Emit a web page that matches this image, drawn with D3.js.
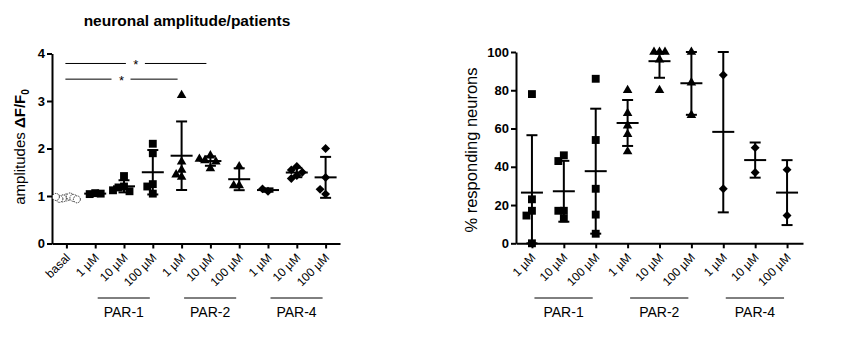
<!DOCTYPE html>
<html>
<head>
<meta charset="utf-8">
<script src="https://cdn.jsdelivr.net/npm/d3@7"></script>
<style>
body { margin: 0; background: #fff; }
svg { font-family: "Liberation Sans", Arial, sans-serif; }
</style>
</head>
<body>
<div class="chart"></div>
<script>
// ---- data: left panel (amplitudes dF/F0)
const ampLabels = ['basal', '1 µM', '10 µM', '100 µM', '1 µM', '10 µM', '100 µM', '1 µM', '10 µM', '100 µM'];
const ampGroups = ['basal', 'PAR-1', 'PAR-1', 'PAR-1', 'PAR-2', 'PAR-2', 'PAR-2', 'PAR-4', 'PAR-4', 'PAR-4'];
const ampValues = [
  [0.97, 0.95, 0.99, 0.94, 0.96, 0.98, 0.93],
  [1.06, 1.04, 1.05],
  [1.42, 1.2, 1.18, 1.1, 1.12],
  [2.1, 1.9, 1.25, 1.2, 1.05],
  [3.12, 1.72, 1.55, 1.45, 1.4],
  [1.85, 1.75, 1.72, 1.58, 1.78],
  [1.62, 1.22, 1.22],
  [1.1, 1.15],
  [1.62, 1.55, 1.5, 1.43, 1.37],
  [2.0, 1.39, 1.04, 1.14]
];
const ampTicks = [0, 1, 2, 3, 4];
// significance bars: [from category, to category, level]
const ampSig = [[0, 5, 3.79], [0, 4, 3.46]];

// ---- data: right panel (% responding neurons)
const respLabels = ['1 µM', '10 µM', '100 µM', '1 µM', '10 µM', '100 µM', '1 µM', '10 µM', '100 µM'];
const respGroups = ['PAR-1', 'PAR-1', 'PAR-1', 'PAR-2', 'PAR-2', 'PAR-2', 'PAR-4', 'PAR-4', 'PAR-4'];
const respValues = [
  [78, 23, 17, 14.5, 0],
  [46, 43, 17, 17, 13],
  [86, 54, 28.5, 15, 5],
  [80, 68, 61.5, 57, 48],
  [100, 100, 100, 96, 80],
  [100, 84, 67],
  [88, 28.5],
  [50, 37],
  [38.5, 14.5]
];
const respTicks = [0, 20, 40, 60, 80, 100];

const W = 844, H = 361;
const svg = d3.select('.chart').append('svg')
  .attr('width', W).attr('height', H);

svg.append('text')
  .attr('x', 187).attr('y', 26)
  .attr('text-anchor', 'middle')
  .attr('font-size', 15.5).attr('font-weight', 'bold')
  .text('neuronal amplitude/patients');

const shapeOf = {
  'basal': null,
  'PAR-1': d3.symbol().type(d3.symbolSquare).size(62),
  'PAR-2': d3.symbol().type(d3.symbolTriangle).size(40),
  'PAR-4': d3.symbol().type(d3.symbolSquare).size(40)
};

// simple swarm: spread points sideways when they overlap
function swarm(ys, step, th) {
  const placed = [];
  const offs = [0, -1, 1, -2, 2, -3, 3];
  ys.forEach(y => {
    let best = 0;
    for (const o of offs) {
      const dx = o * step;
      const hit = placed.some(p => Math.abs(p.dx - dx) < step * 0.9 && Math.abs(p.y - y) < th);
      if (!hit) { best = dx; break; }
    }
    placed.push({ y: y, dx: best });
  });
  return placed.map(p => p.dx);
}

function panel(cfg) {
  const g = svg.append('g');
  const x = d3.scalePoint()
    .domain(d3.range(cfg.labels.length))
    .range(cfg.xr).padding(0.5);
  const y = d3.scaleLinear().domain(cfg.yd).range(cfg.yr);

  // y axis
  const ya = g.append('g')
    .attr('transform', `translate(${cfg.xr[0]},0)`)
    .call(d3.axisLeft(y).tickValues(cfg.ticks).tickFormat(d3.format('d'))
      .tickSize(5).tickSizeOuter(0).tickPadding(2));
  ya.selectAll('path,line').attr('stroke-width', 2);
  ya.selectAll('text').attr('font-size', 13).attr('font-weight', 'bold')
    .attr('font-family', '"Liberation Sans", Arial, sans-serif').attr('fill', '#000');

  // x axis
  const xa = g.append('g')
    .attr('transform', `translate(0,${cfg.yr[0]})`)
    .call(d3.axisBottom(x).tickSize(5).tickSizeOuter(0).tickFormat(i => cfg.labels[i]));
  xa.selectAll('path,line').attr('stroke-width', 2);
  xa.selectAll('text')
    .attr('font-size', 12)
    .attr('font-family', '"Liberation Sans", Arial, sans-serif')
    .attr('fill', '#000')
    .attr('text-anchor', 'end')
    .attr('x', 0).attr('y', 0).attr('dy', 0)
    .attr('transform', 'translate(4,15) rotate(-45)');

  // y label
  const yl = g.append('text')
    .attr('transform', `translate(${cfg.ylx},${cfg.yly}) rotate(-90)`)
    .attr('text-anchor', 'middle')
    .attr('font-size', cfg.ylSize);
  cfg.ylabel(yl);

  const [ymin, ymax] = cfg.yd;
  const clamp = v => Math.max(ymin, Math.min(ymax, v));

  // points
  cfg.values.forEach((vals, i) => {
    const grp = cfg.groups[i];
    const ys = vals.map(v => y(v));
    const dxs = grp === 'basal' ? swarm(ys, 3.5, 3.5) : swarm(ys, 5.5, 7);
    const cx = x(i);
    if (grp === 'basal') {
      const mid = d3.mean(dxs);
      g.selectAll(null).data(vals).enter().append('circle')
        .attr('cx', (d, k) => cx + dxs[k] - mid)
        .attr('cy', d => y(d))
        .attr('r', 3.5)
        .attr('fill', '#fff').attr('stroke', '#000')
        .attr('stroke-width', 0.8).attr('stroke-dasharray', '1.5,1');
    } else {
      g.selectAll(null).data(vals).enter().append('path')
        .attr('d', shapeOf[grp])
        .attr('transform', (d, k) => `translate(${cx + dxs[k]},${y(d)})` + (grp === 'PAR-4' ? ' rotate(45)' : ''))
        .attr('fill', '#000');

      // mean and SD, clipped to the axis range
      const m = d3.mean(vals), s = d3.deviation(vals) || 0;
      const lo = y(clamp(m - s)), hi = y(clamp(m + s));
      const eb = g.append('g').attr('stroke', '#000').attr('stroke-width', 2);
      eb.append('line').attr('x1', cx - 11).attr('x2', cx + 11).attr('y1', y(m)).attr('y2', y(m));
      eb.append('line').attr('x1', cx).attr('x2', cx).attr('y1', lo).attr('y2', hi);
      eb.append('line').attr('x1', cx - 5.5).attr('x2', cx + 5.5).attr('y1', lo).attr('y2', lo);
      eb.append('line').attr('x1', cx - 5.5).attr('x2', cx + 5.5).attr('y1', hi).attr('y2', hi);
    }
  });

  // group lines and labels under the axis
  const names = Array.from(new Set(cfg.groups)).filter(n => n !== 'basal');
  names.forEach(n => {
    const idx = d3.range(cfg.groups.length).filter(i => cfg.groups[i] === n);
    const x0 = x(idx[0]) + 2.5, x1 = x(idx[idx.length - 1]) - 3;
    g.append('line').attr('x1', x0).attr('x2', x1).attr('y1', 298).attr('y2', 298)
      .attr('stroke', '#000').attr('stroke-width', 1);
    g.append('text').attr('x', (x0 + x1) / 2).attr('y', 317)
      .attr('text-anchor', 'middle').attr('font-size', 14).text(n);
  });

  // significance bars
  (cfg.sig || []).forEach(([a, b, lv]) => {
    const x0 = x(a) - 1, x1 = x(b) - 4, yy = y(lv), mid = (x0 + x1) / 2;
    const sg = g.append('g').attr('stroke', '#000').attr('stroke-width', 1);
    sg.append('line').attr('x1', x0).attr('x2', mid - 10).attr('y1', yy).attr('y2', yy);
    sg.append('line').attr('x1', mid + 9).attr('x2', x1).attr('y1', yy).attr('y2', yy);
    g.append('text').attr('x', mid).attr('y', yy + 6)
      .attr('text-anchor', 'middle').attr('font-size', 13).text('*');
  });
}

panel({
  labels: ampLabels, groups: ampGroups, values: ampValues, ticks: ampTicks,
  xr: [52, 340], yd: [0, 4], yr: [243.5, 53.5], sig: ampSig,
  ylx: 25, yly: 147, ylSize: 15,
  ylabel: t => {
    t.append('tspan').text('amplitudes ');
    t.append('tspan').attr('font-weight', 'bold').text('ΔF/F');
    t.append('tspan').attr('font-weight', 'bold').attr('font-size', 10).attr('dy', 4).text('0');
  }
});

panel({
  labels: respLabels, groups: respGroups, values: respValues, ticks: respTicks,
  xr: [516, 803], yd: [0, 100], yr: [243.3, 52],
  ylx: 477, yly: 150, ylSize: 16.5,
  ylabel: t => t.text('% responding neurons')
});
</script>
</body>
</html>
